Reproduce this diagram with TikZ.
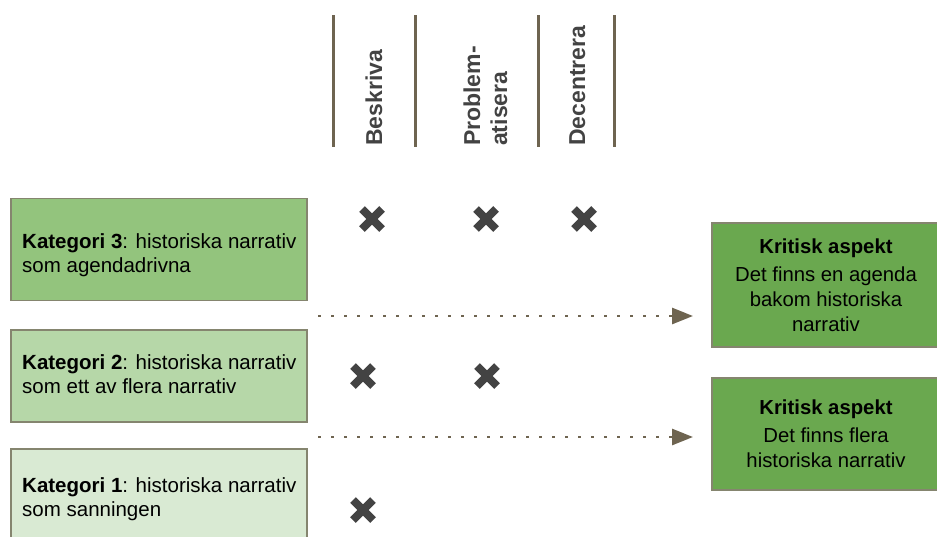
\documentclass[tikz,border=0pt]{standalone}
\usepackage{fontspec}
\setmainfont{Liberation Sans}
\usetikzlibrary{arrows.meta}
\definecolor{linecol}{HTML}{6E6450}
\definecolor{xcol}{HTML}{434343}
\definecolor{labelcol}{HTML}{434343}
\definecolor{bordercol}{HTML}{85856F}
\definecolor{gthree}{HTML}{93C47D}
\definecolor{gtwo}{HTML}{B6D7A8}
\definecolor{gone}{HTML}{D9EAD3}
\definecolor{critgreen}{HTML}{6AA84F}
\newcommand{\xmk}[2]{\draw[xm] (#1-10,#2-10) -- (#1+10,#2+10) (#1-10,#2+10) -- (#1+10,#2-10);}
\begin{document}
\begin{tikzpicture}[x=1pt,y=-1pt,
  cat/.style={draw=bordercol, line width=1.2pt, inner sep=0, minimum width=296pt},
  crit/.style={draw=bordercol, line width=1.2pt, fill=critgreen, align=center, inner sep=0, minimum width=228pt, font=\fontsize{20.3}{25}\selectfont},
  txt/.style={anchor=base west, inner sep=0, align=left, font=\fontsize{20.5}{24}\selectfont},
  col/.style={rotate=90, anchor=base west, inner sep=0, align=left, text=labelcol, font=\fontsize{23}{27}\selectfont\bfseries},
  sep/.style={draw=linecol, line width=3pt},
  xm/.style={draw=xcol, line width=8pt},
  flow/.style={draw=linecol, line width=2.8pt, dash pattern=on 2.8pt off 10.2pt, -{Triangle[length=21pt,width=16pt]}}]
\useasboundingbox (0,0) rectangle (937,536);
\clip (0,0) rectangle (937,536);
\fill[white] (0,0) rectangle (937,536);
% column separators
\draw[sep] (333,15) -- (333,147);
\draw[sep] (415,15) -- (415,147);
\draw[sep] (538,15) -- (538,147);
\draw[sep] (614,15) -- (614,147);
% column labels
\node[col] (lbesk) at (382,146) {Beskriva};
\node[col] (lprob) at (507,146) {Problem-\\atisera};
\node[col] (ldec) at (585,146) {Decentrera};
% category boxes
\node[cat, fill=gthree, minimum height=102pt] (k3) at (159,249.5) {};
\node[cat, fill=gtwo, minimum height=92pt] (k2) at (159,376) {};
\node[cat, fill=gone, minimum height=100pt] (k1) at (159,499) {};
\node[txt] (k3t) at (22,272) {\textbf{Kategori 3}: historiska narrativ\\som agendadrivna};
\node[txt] (k2t) at (22,393) {\textbf{Kategori 2}: historiska narrativ\\som ett av flera narrativ};
\node[txt] (k1t) at (22,516) {\textbf{Kategori 1}: historiska narrativ\\som sanningen};
% critical aspects
\node[crit, minimum height=124pt] (ca) at (826,285) {\textbf{Kritisk aspekt}\\[3pt]Det finns en agenda\\bakom historiska\\narrativ};
\node[crit, minimum height=112pt] (cb) at (826,434) {\textbf{Kritisk aspekt}\\[3pt]Det finns flera\\historiska narrativ};
% arrows
\coordinate (a1s) at (318,316);
\coordinate (a1e) at (693,316);
\coordinate (a2s) at (318,437);
\coordinate (a2e) at (693,437);
\draw[flow] (a1s) -- (a1e);
\draw[flow] (a2s) -- (a2e);
% marks
\xmk{372}{219}
\xmk{486}{219}
\xmk{584}{219}
\xmk{363}{376}
\xmk{487}{376}
\xmk{363}{510}
\end{tikzpicture}
\end{document}
